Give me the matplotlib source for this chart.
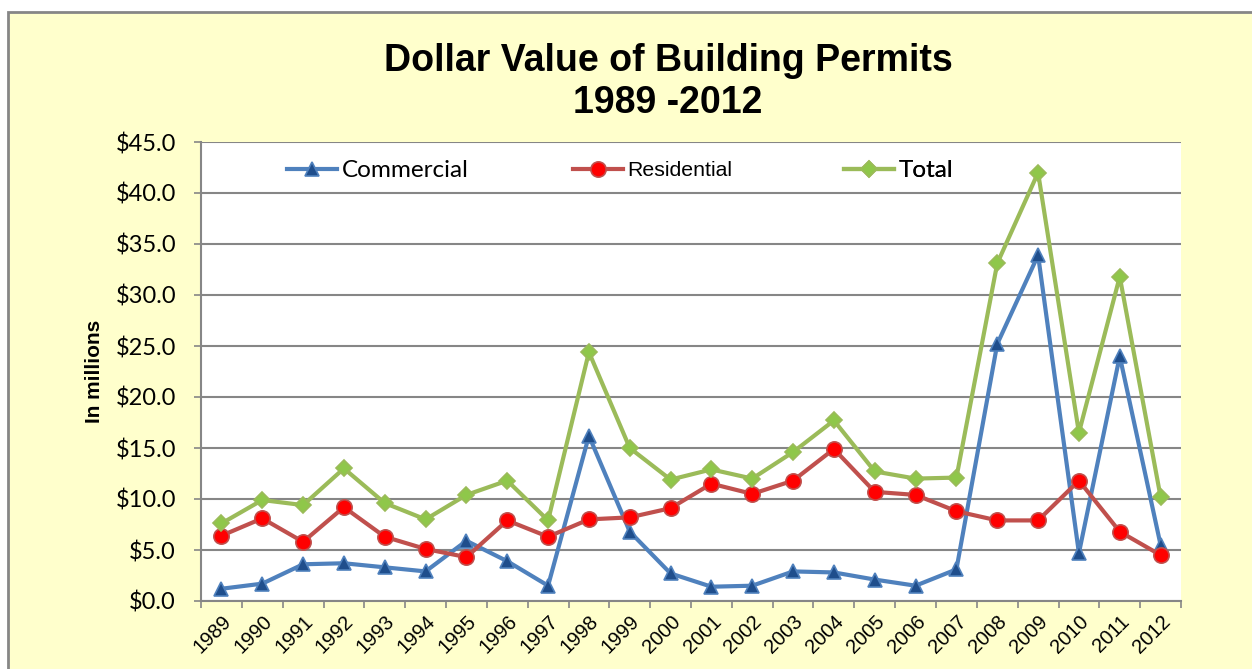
import matplotlib
matplotlib.use("Agg")
import matplotlib.pyplot as plt
from matplotlib.patches import Rectangle

years = [str(y) for y in range(1989, 2013)]
commercial = [1.2, 1.7, 3.6, 3.7, 3.3, 2.9, 5.9, 3.9, 1.5, 16.2, 6.8, 2.7,
              1.4, 1.5, 2.9, 2.8, 2.1, 1.5, 3.1, 25.2, 33.9, 4.7, 24.0, 5.5]
residential = [6.4, 8.1, 5.8, 9.2, 6.3, 5.1, 4.3, 7.9, 6.3, 8.0, 8.2, 9.1,
               11.5, 10.5, 11.8, 14.9, 10.7, 10.4, 8.8, 7.9, 7.9, 11.8, 6.8, 4.5]
total = [7.6, 9.9, 9.4, 13.0, 9.6, 8.0, 10.4, 11.8, 7.9, 24.4, 15.0, 11.9,
         12.9, 12.0, 14.6, 17.7, 12.7, 12.0, 12.1, 33.1, 42.0, 16.5, 31.8, 10.2]
yticks = [0, 5, 10, 15, 20, 25, 30, 35, 40, 45]

W, H = 1252, 669
fig = plt.figure(figsize=(W / 100, H / 100), dpi=100)
fig.patch.set_facecolor("white")
# chart area background with border
bg = Rectangle((8 / W, -0.1), 1.2, 1 - 12 / H + 0.1,
               transform=fig.transFigure, facecolor="#FFFFCC",
               edgecolor="#868686", linewidth=2, zorder=-10)
fig.add_artist(bg)

ax = fig.add_axes([201 / W, 1 - 601 / H, (1181 - 201) / W, (601 - 142) / H])
ax.set_facecolor("white")

x = list(range(len(years)))
ax.plot(x, commercial, color="#4F81BD", lw=3, marker="^", ms=10,
        mfc="#1F4E8C", mec="#4F81BD", mew=1.2, label="Commercial", zorder=3)
ax.plot(x, residential, color="#C0504D", lw=3, marker="o", ms=11,
        mfc="#FF0000", mec="#C0504D", mew=1.2, label="Residential", zorder=3)
ax.plot(x, total, color="#9BBB59", lw=3, marker="D", ms=8,
        mfc="#8FC74A", mec="#9BBB59", mew=1.2, label="Total", zorder=3)

ax.set_xlim(-0.5, len(years) - 0.5)
ax.set_ylim(0, 45)
ax.set_yticks(yticks)
ax.set_yticklabels([f"${v:.1f}" for v in yticks], fontfamily="Lato", fontsize=17)
ax.set_xticks(x)
ax.set_xticklabels(years, rotation=45, ha="right", rotation_mode="anchor",
                   fontfamily="Liberation Sans", fontsize=14.5)
ax.set_xticks([i - 0.5 for i in range(len(years) + 1)], minor=True)
ax.tick_params(axis="x", which="major", length=0, pad=8)
ax.tick_params(axis="x", which="minor", length=5, width=1.2, color="#868686")
ax.tick_params(axis="y", length=5, width=1.2, color="#868686", pad=13)

ax.grid(axis="y", color="#868686", lw=1.5, zorder=0)
for s in ["top", "right"]:
    ax.spines[s].set_visible(False)
for s in ["left", "bottom"]:
    ax.spines[s].set_color("#868686")
    ax.spines[s].set_linewidth(1.5)

ax.set_ylabel("In millions", fontfamily="Liberation Sans", fontweight="bold",
              fontsize=15)
ax.yaxis.set_label_coords((104 - 201) / (1181 - 201), 0.5)

fig.text(668 / W, 1 - 61 / H, "Dollar Value of Building Permits", ha="center", va="center",
         fontfamily="Liberation Sans", fontweight="bold", fontsize=27)
fig.text(668 / W, 1 - 103 / H, "1989 -2012", ha="center", va="center",
         fontfamily="Liberation Sans", fontweight="bold", fontsize=27)

handles = ax.get_lines()
fonts = ["Lato", "Liberation Sans", "Lato"]
sizes = [17.5, 15.3, 17.5]
xpos = [0.088, 0.380, 0.656]
for h, f, sz, xp in zip(handles, fonts, sizes, xpos):
    leg = ax.legend([h], [h.get_label()], loc="center left", bbox_to_anchor=(xp, 0.937),
                    frameon=False, borderpad=0, borderaxespad=0,
                    handlelength=50 / sz / 100 * 72, handletextpad=0.2,
                    prop={"family": f, "size": sz})
    ax.add_artist(leg)

fig.savefig("out.png", dpi=100)
